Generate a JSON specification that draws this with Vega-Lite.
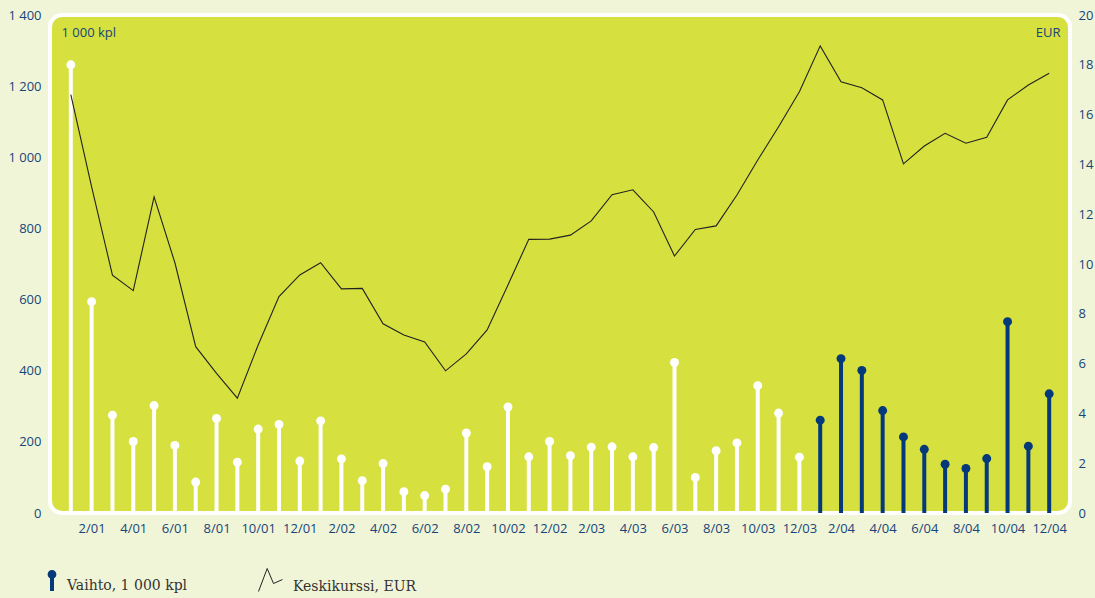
{
  "$schema": "https://vega.github.io/schema/vega-lite/v6.json",
  "width": 1020,
  "height": 498,
  "autosize": {"type": "none"},
  "padding": {"left": 50, "top": 15, "right": 25, "bottom": 85},
  "background": "#f1f5d8",
  "view": {"fill": "#d6e03f", "stroke": "#ffffff", "strokeWidth": 4, "cornerRadius": 12},
  "config": {
    "view": {"fill": "#d6e03f", "stroke": "#ffffff", "strokeWidth": 4, "cornerRadius": 12},
    "font": "Open Sans"
  },
  "data": {"values": [
      {"kk": "1/01", "vuosi": 2001, "vaihto": 1260, "kurssi": 16.8},
      {"kk": "2/01", "vuosi": 2001, "vaihto": 594, "kurssi": 13.1},
      {"kk": "3/01", "vuosi": 2001, "vaihto": 275, "kurssi": 9.55},
      {"kk": "4/01", "vuosi": 2001, "vaihto": 201, "kurssi": 8.93},
      {"kk": "5/01", "vuosi": 2001, "vaihto": 302, "kurssi": 12.7},
      {"kk": "6/01", "vuosi": 2001, "vaihto": 190, "kurssi": 10.05},
      {"kk": "7/01", "vuosi": 2001, "vaihto": 87, "kurssi": 6.68},
      {"kk": "8/01", "vuosi": 2001, "vaihto": 266, "kurssi": 5.61},
      {"kk": "9/01", "vuosi": 2001, "vaihto": 143, "kurssi": 4.61},
      {"kk": "10/01", "vuosi": 2001, "vaihto": 236, "kurssi": 6.75},
      {"kk": "11/01", "vuosi": 2001, "vaihto": 249, "kurssi": 8.69},
      {"kk": "12/01", "vuosi": 2001, "vaihto": 146, "kurssi": 9.56},
      {"kk": "1/02", "vuosi": 2002, "vaihto": 259, "kurssi": 10.05},
      {"kk": "2/02", "vuosi": 2002, "vaihto": 152, "kurssi": 9.0},
      {"kk": "3/02", "vuosi": 2002, "vaihto": 91, "kurssi": 9.02},
      {"kk": "4/02", "vuosi": 2002, "vaihto": 139, "kurssi": 7.6},
      {"kk": "5/02", "vuosi": 2002, "vaihto": 60, "kurssi": 7.15},
      {"kk": "6/02", "vuosi": 2002, "vaihto": 49, "kurssi": 6.87},
      {"kk": "7/02", "vuosi": 2002, "vaihto": 67, "kurssi": 5.71},
      {"kk": "8/02", "vuosi": 2002, "vaihto": 225, "kurssi": 6.39},
      {"kk": "9/02", "vuosi": 2002, "vaihto": 130, "kurssi": 7.35},
      {"kk": "10/02", "vuosi": 2002, "vaihto": 298, "kurssi": 9.16},
      {"kk": "11/02", "vuosi": 2002, "vaihto": 158, "kurssi": 10.99},
      {"kk": "12/02", "vuosi": 2002, "vaihto": 201, "kurssi": 11.0},
      {"kk": "1/03", "vuosi": 2003, "vaihto": 161, "kurssi": 11.16},
      {"kk": "2/03", "vuosi": 2003, "vaihto": 185, "kurssi": 11.73},
      {"kk": "3/03", "vuosi": 2003, "vaihto": 186, "kurssi": 12.78},
      {"kk": "4/03", "vuosi": 2003, "vaihto": 158, "kurssi": 12.98},
      {"kk": "5/03", "vuosi": 2003, "vaihto": 184, "kurssi": 12.09},
      {"kk": "6/03", "vuosi": 2003, "vaihto": 423, "kurssi": 10.32},
      {"kk": "7/03", "vuosi": 2003, "vaihto": 100, "kurssi": 11.39},
      {"kk": "8/03", "vuosi": 2003, "vaihto": 175, "kurssi": 11.53},
      {"kk": "9/03", "vuosi": 2003, "vaihto": 197, "kurssi": 12.77},
      {"kk": "10/03", "vuosi": 2003, "vaihto": 358, "kurssi": 14.18},
      {"kk": "11/03", "vuosi": 2003, "vaihto": 281, "kurssi": 15.51},
      {"kk": "12/03", "vuosi": 2003, "vaihto": 157, "kurssi": 16.92},
      {"kk": "1/04", "vuosi": 2004, "vaihto": 261, "kurssi": 18.76},
      {"kk": "2/04", "vuosi": 2004, "vaihto": 434, "kurssi": 17.32},
      {"kk": "3/04", "vuosi": 2004, "vaihto": 401, "kurssi": 17.08},
      {"kk": "4/04", "vuosi": 2004, "vaihto": 288, "kurssi": 16.59},
      {"kk": "5/04", "vuosi": 2004, "vaihto": 214, "kurssi": 14.02},
      {"kk": "6/04", "vuosi": 2004, "vaihto": 179, "kurssi": 14.74},
      {"kk": "7/04", "vuosi": 2004, "vaihto": 137, "kurssi": 15.25},
      {"kk": "8/04", "vuosi": 2004, "vaihto": 125, "kurssi": 14.85},
      {"kk": "9/04", "vuosi": 2004, "vaihto": 153, "kurssi": 15.09},
      {"kk": "10/04", "vuosi": 2004, "vaihto": 538, "kurssi": 16.59},
      {"kk": "11/04", "vuosi": 2004, "vaihto": 188, "kurssi": 17.19},
      {"kk": "12/04", "vuosi": 2004, "vaihto": 335, "kurssi": 17.66}
  ]},
  "layer": [
    {
      "mark": {"type": "rule", "strokeWidth": 4, "strokeCap": "butt"},
      "encoding": {
        "x": {
          "field": "kk", "type": "ordinal", "sort": null,
          "scale": {"type": "point", "padding": 1},
          "axis": {
            "title": null, "domain": false, "ticks": false, "grid": false, "labelAngle": 0,
            "values": ["2/01","4/01","6/01","8/01","10/01","12/01","2/02","4/02","6/02","8/02","10/02","12/02","2/03","4/03","6/03","8/03","10/03","12/03","2/04","4/04","6/04","8/04","10/04","12/04"],
            "labelPadding": 9, "labelFontSize": 13, "labelColor": "#174579", "labelFont": "Open Sans"
          }
        },
        "y": {
          "field": "vaihto", "type": "quantitative",
          "scale": {"domain": [0, 1400], "nice": false, "zero": true},
          "axis": {
            "orient": "left", "values": [0, 200, 400, 600, 800, 1000, 1200, 1400],
            "domain": false, "ticks": false, "grid": false,
            "labelExpr": "replace(format(datum.value, ','), ',', ' ')",
            "labelPadding": 9, "labelFontSize": 13, "labelColor": "#174579", "labelFont": "Open Sans",
            "title": "1 000 kpl", "titleAngle": 0, "titleX": 11, "titleY": 17, "titleAlign": "left",
            "titleBaseline": "middle", "titleFontWeight": "normal", "titleFontSize": 13,
            "titleColor": "#174579", "titleFont": "Open Sans"
          }
        },
        "y2": {"datum": 0},
        "color": {"condition": {"test": "datum.vuosi == 2004", "value": "#053a7a"}, "value": "#ffffff"}
      }
    },
    {
      "mark": {"type": "circle", "size": 80, "opacity": 1},
      "encoding": {
        "x": {"field": "kk", "type": "ordinal", "sort": null},
        "y": {"field": "vaihto", "type": "quantitative", "scale": {"domain": [0, 1400], "nice": false}, "axis": null},
        "color": {"condition": {"test": "datum.vuosi == 2004", "value": "#053a7a"}, "value": "#ffffff"}
      }
    },
    {
      "mark": {"type": "line", "stroke": "#222222", "strokeWidth": 1.1},
      "encoding": {
        "x": {"field": "kk", "type": "ordinal", "sort": null},
        "y": {
          "field": "kurssi", "type": "quantitative",
          "scale": {"domain": [0, 20], "nice": false},
          "axis": {
            "orient": "right", "values": [0, 2, 4, 6, 8, 10, 12, 14, 16, 18, 20],
            "domain": false, "ticks": false, "grid": false,
            "labelPadding": 8, "labelFontSize": 13, "labelColor": "#174579", "labelFont": "Open Sans",
            "title": "EUR", "titleAngle": 0, "titleX": -10, "titleY": 17, "titleAlign": "right",
            "titleBaseline": "middle", "titleFontWeight": "normal", "titleFontSize": 13,
            "titleColor": "#174579", "titleFont": "Open Sans"
          }
        }
      }
    },
    {
      "data": {"values": [{"s": "Vaihto, 1 000 kpl"}]},
      "mark": {"type": "point", "filled": true, "opacity": 0, "color": "#053a7a"},
      "encoding": {
        "shape": {
          "field": "s", "type": "nominal",
          "scale": {"range": ["M-0.2,-0.78L-0.2,0.5L0.2,0.5L0.2,-0.78ZM-0.44,-1.15A0.44,0.44,0,1,0,0.44,-1.15A0.44,0.44,0,1,0,-0.44,-1.15Z"]},
          "legend": {
            "orient": "none", "legendX": -8, "legendY": 561, "title": null,
            "symbolSize": 400, "symbolFillColor": "#053a7a", "symbolStrokeWidth": 0,
            "labelFont": "DejaVu Serif", "labelFontSize": 14, "labelColor": "#333333", "labelOffset": 5
          }
        }
      }
    },
    {
      "data": {"values": [{"k": "Keskikurssi, EUR"}]},
      "mark": {"type": "point", "filled": false, "opacity": 0},
      "encoding": {
        "color": {
          "field": "k", "type": "nominal",
          "scale": {"range": ["#222222"]},
          "legend": {
            "orient": "none", "legendX": 217, "legendY": 561, "title": null,
            "symbolType": "M-1.9,0.5L-1.03,-1.8L-0.4,-0.3L0.5,-0.7",
            "symbolSize": 400, "symbolStrokeWidth": 1, "symbolFillColor": "transparent",
            "labelFont": "DejaVu Serif", "labelFontSize": 14, "labelColor": "#333333", "labelOffset": 5
          }
        }
      }
    }
  ],
  "resolve": {"scale": {"y": "independent"}}
}
